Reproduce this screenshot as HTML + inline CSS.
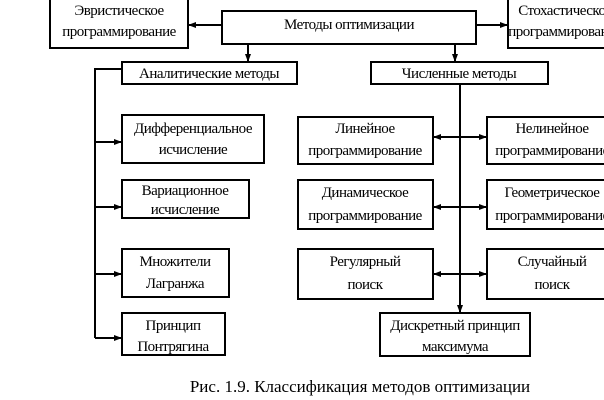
<!DOCTYPE html>
<html><head><meta charset="utf-8"><style>
html,body{margin:0;padding:0;background:#fff;}
svg{display:block;}
text{font-family:"Liberation Serif","DejaVu Serif",serif;font-size:15px;fill:#000;letter-spacing:-0.5px;}
</style></head><body>
<svg width="604" height="400" viewBox="0 0 604 400" xmlns="http://www.w3.org/2000/svg">
<defs>
<marker id="a" markerWidth="8" markerHeight="8" refX="7" refY="4" orient="auto" markerUnits="userSpaceOnUse">
<path d="M0,1 L8,4 L0,7 Z" fill="#000"/></marker>
<marker id="b" markerWidth="8" markerHeight="8" refX="1" refY="4" orient="auto" markerUnits="userSpaceOnUse">
<path d="M8,1 L0,4 L8,7 Z" fill="#000"/></marker>
</defs>
<g fill="#fff" stroke="#000" stroke-width="2">
<rect x="50" y="-4" width="138" height="52"/>
<rect x="222" y="11" width="254" height="33"/>
<rect x="508" y="-4" width="110" height="52"/>
<rect x="122" y="62" width="175" height="22"/>
<rect x="371" y="62" width="177" height="22"/>
<rect x="122" y="115" width="142" height="48"/>
<rect x="122" y="180" width="127" height="38"/>
<rect x="122" y="249" width="107" height="48"/>
<rect x="122" y="313" width="103" height="42"/>
<rect x="298" y="117" width="135" height="47"/>
<rect x="298" y="180" width="135" height="49"/>
<rect x="298" y="249" width="135" height="50"/>
<rect x="487" y="117" width="130" height="47"/>
<rect x="487" y="180" width="130" height="49"/>
<rect x="487" y="249" width="130" height="50"/>
<rect x="380" y="313" width="150" height="43"/>
</g>
<g stroke="#000" stroke-width="2" fill="none">
<line x1="222" y1="25" x2="189" y2="25" marker-end="url(#a)"/>
<line x1="476" y1="25" x2="507" y2="25" marker-end="url(#a)"/>
<line x1="248" y1="44" x2="248" y2="61" marker-end="url(#a)"/>
<line x1="455" y1="44" x2="455" y2="61" marker-end="url(#a)"/>
<polyline points="122,69 95,69 95,338"/>
<line x1="95" y1="142" x2="121" y2="142" marker-end="url(#a)"/>
<line x1="95" y1="207" x2="121" y2="207" marker-end="url(#a)"/>
<line x1="95" y1="274" x2="121" y2="274" marker-end="url(#a)"/>
<line x1="95" y1="338" x2="121" y2="338" marker-end="url(#a)"/>
<line x1="460" y1="84" x2="460" y2="312" marker-end="url(#a)"/>
<line x1="434" y1="137" x2="486" y2="137" marker-start="url(#b)" marker-end="url(#a)"/>
<line x1="434" y1="207" x2="486" y2="207" marker-start="url(#b)" marker-end="url(#a)"/>
<line x1="434" y1="274" x2="486" y2="274" marker-start="url(#b)" marker-end="url(#a)"/>
</g>
<g text-anchor="middle">
<text x="119" y="15">Эвристическое</text>
<text x="119" y="36">программирование</text>
<text x="349" y="29">Методы оптимизации</text>
<text x="565" y="15">Стохастическое</text>
<text x="565" y="36">программирование</text>
<text x="209" y="78">Аналитические методы</text>
<text x="459" y="78">Численные методы</text>
<text x="193" y="133">Дифференциальное</text>
<text x="193" y="154">исчисление</text>
<text x="185" y="195">Вариационное</text>
<text x="185" y="214">исчисление</text>
<text x="175" y="266">Множители</text>
<text x="175" y="288">Лагранжа</text>
<text x="173" y="330">Принцип</text>
<text x="173" y="351">Понтрягина</text>
<text x="365" y="133">Линейное</text>
<text x="365" y="155">программирование</text>
<text x="365" y="197">Динамическое</text>
<text x="365" y="220">программирование</text>
<text x="365" y="266">Регулярный</text>
<text x="365" y="289">поиск</text>
<text x="552" y="133">Нелинейное</text>
<text x="552" y="155">программирование</text>
<text x="552" y="197">Геометрическое</text>
<text x="552" y="220">программирование</text>
<text x="552" y="266">Случайный</text>
<text x="552" y="289">поиск</text>
<text x="455" y="330">Дискретный принцип</text>
<text x="455" y="351">максимума</text>
<text x="360" y="392" style="font-size:17px;letter-spacing:0">Рис. 1.9. Классификация методов оптимизации</text>
</g>
</svg>
</body></html>
